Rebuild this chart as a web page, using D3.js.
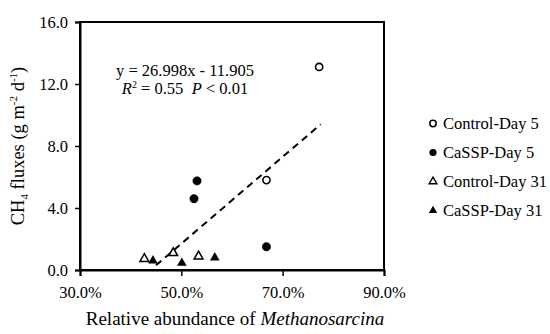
<!DOCTYPE html>
<html><head><meta charset="utf-8">
<script src="https://cdn.jsdelivr.net/npm/d3@7"></script>
<style>body{margin:0;background:#fff}svg{display:block}</style>
</head><body>
<svg id="c" width="550" height="334"></svg>
<script>
const seriesNames = ["Control-Day 5", "CaSSP-Day 5", "Control-Day 31", "CaSSP-Day 31"];
const controlDay5 = [[66.8, 5.8], [77.2, 13.1]];
const casspDay5 = [[52.5, 4.6], [53.1, 5.75], [66.8, 1.5]];
const controlDay31 = [[42.7, 0.72], [48.4, 1.1], [53.4, 0.88]];
const casspDay31 = [[44.4, 0.6], [50.1, 0.45], [56.6, 0.8]];
const trendLine = [[45.0, 0.3], [77.5, 9.4]];
const xTicks = [30, 50, 70, 90];
const yTicks = [0, 4, 8, 12, 16];
const equationText = "y = 26.998x - 11.905";

const font = "'Liberation Serif', 'DejaVu Serif', serif";
const svg = d3.select("#c");
const L = 80, R = 384, T = 22, B = 270;
const x = d3.scaleLinear().domain([30, 90]).range([L, R]);
const y = d3.scaleLinear().domain([0, 16]).range([B, T]);

// frame
svg.append("rect").attr("x", L).attr("y", T).attr("width", R - L).attr("height", B - T)
  .attr("fill", "none").attr("stroke", "#000").attr("stroke-width", 2);

const xa = svg.append("g").attr("transform", `translate(0,${B})`)
  .call(d3.axisBottom(x).tickValues(xTicks).tickSize(6).tickFormat(d => d.toFixed(1) + "%"));
const ya = svg.append("g").attr("transform", `translate(${L},0)`)
  .call(d3.axisLeft(y).tickValues(yTicks).tickSize(5).tickFormat(d => d.toFixed(1)));
[xa, ya].forEach(a => {
  a.select(".domain").attr("stroke-width", 2);
  a.selectAll(".tick line").attr("stroke-width", 1.5);
  a.selectAll("text").attr("font-family", font).attr("font-size", 16.5).attr("fill", "#000");
});
xa.selectAll("text").attr("y", 0).attr("dy", 0).attr("transform", "translate(0,28)");
ya.selectAll("text").attr("x", -12);

// trend line
svg.append("line")
  .attr("x1", x(trendLine[0][0])).attr("y1", y(trendLine[0][1]))
  .attr("x2", x(trendLine[1][0])).attr("y2", y(trendLine[1][1]))
  .attr("stroke", "#000").attr("stroke-width", 2).attr("stroke-dasharray", "7,5");

const tri = d3.symbol().type(d3.symbolTriangle).size(34);
function drawCircles(data, filled) {
  svg.append("g").selectAll("circle").data(data).join("circle")
    .attr("cx", d => x(d[0])).attr("cy", d => y(d[1])).attr("r", filled ? 4.2 : 3.6)
    .attr("fill", filled ? "#000" : "#fff").attr("stroke", "#000").attr("stroke-width", filled ? 0.5 : 1.6);
}
function drawTris(data, filled) {
  svg.append("g").selectAll("path").data(data).join("path")
    .attr("d", tri).attr("transform", d => `translate(${x(d[0])},${y(d[1])})`)
    .attr("fill", filled ? "#000" : "#fff").attr("stroke", "#000").attr("stroke-width", filled ? 0.5 : 1.5);
}
drawCircles(controlDay5, false);
drawCircles(casspDay5, true);
drawTris(controlDay31, false);
drawTris(casspDay31, true);

// equation
svg.append("text").attr("x", 185).attr("y", 76).attr("text-anchor", "middle")
  .attr("font-family", font).attr("font-size", 16.5).text(equationText);
const t2 = svg.append("text").attr("x", 185).attr("y", 94).attr("text-anchor", "middle")
  .attr("font-family", font).attr("font-size", 16.5);
t2.append("tspan").attr("font-style", "italic").text("R");
t2.append("tspan").attr("font-size", 10).attr("dy", -6).text("2");
t2.append("tspan").attr("dy", 6).text(" = 0.55\u00a0\u00a0");
t2.append("tspan").attr("font-style", "italic").text("P");
t2.append("tspan").text(" < 0.01");

// axis titles
const xt = svg.append("text").attr("x", 235).attr("y", 325).attr("text-anchor", "middle")
  .attr("font-family", font).attr("font-size", 19);
xt.append("tspan").text("Relative abundance of ");
xt.append("tspan").attr("font-style", "italic").text("Methanosarcina");

const yt = svg.append("text").attr("transform", `translate(24,146) rotate(-90)`).attr("text-anchor", "middle")
  .attr("font-family", font).attr("font-size", 18.5);
yt.append("tspan").text("CH");
yt.append("tspan").attr("font-size", 11).attr("dy", 4).text("4");
yt.append("tspan").attr("dy", -4).text(" fluxes (g m");
yt.append("tspan").attr("font-size", 11).attr("dy", -7).text("-2");
yt.append("tspan").attr("dy", 7).text(" d");
yt.append("tspan").attr("font-size", 11).attr("dy", -7).text("-1");
yt.append("tspan").attr("dy", 7).text(")");

// legend
const lg = svg.append("g");
const legendRows = [0, 1, 2, 3];
const ly = d => 123.5 + d * 29;
lg.selectAll("text").data(legendRows).join("text")
  .attr("x", 443).attr("y", d => ly(d)).attr("dy", "0.35em")
  .attr("font-family", font).attr("font-size", 16.5).text(d => seriesNames[d]);
lg.append("circle").attr("cx", 433).attr("cy", ly(0)).attr("r", 3.2).attr("fill", "#fff").attr("stroke", "#000").attr("stroke-width", 1.5);
lg.append("circle").attr("cx", 433).attr("cy", ly(1)).attr("r", 3.6).attr("fill", "#000");
lg.append("path").attr("d", d3.symbol().type(d3.symbolTriangle).size(26)).attr("transform", `translate(433,${ly(2)})`).attr("fill", "#fff").attr("stroke", "#000").attr("stroke-width", 1.4);
lg.append("path").attr("d", d3.symbol().type(d3.symbolTriangle).size(30)).attr("transform", `translate(433,${ly(3)})`).attr("fill", "#000");
</script>
</body></html>
